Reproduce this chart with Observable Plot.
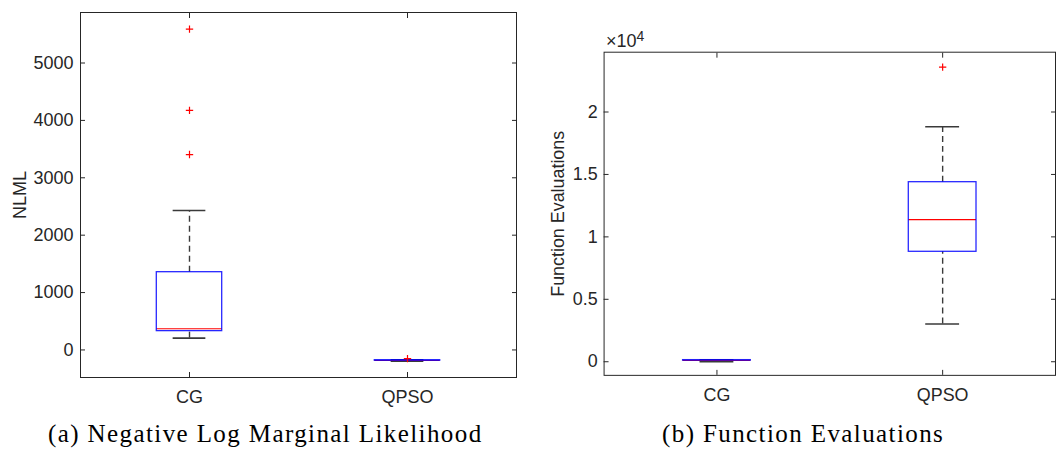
<!DOCTYPE html>
<html><head><meta charset="utf-8">
<script src="https://cdn.jsdelivr.net/npm/d3@7"></script>
<script src="https://cdn.jsdelivr.net/npm/@observablehq/plot@0.6"></script>
<style>
html,body{margin:0;padding:0;background:#fff}
body{width:1057px;height:450px;overflow:hidden;position:relative;font-family:"Liberation Sans",Arial,sans-serif}
#a{position:absolute;left:0;top:0}
#b{position:absolute;left:530px;top:0}
.cap{position:absolute;top:421px;font-family:"Liberation Serif",serif;font-size:25px;letter-spacing:1.4px;color:#000;white-space:nowrap;line-height:1}
#mult{position:absolute;left:606px;top:31.5px;font-size:18px;line-height:1;color:#262626;white-space:nowrap}
</style></head><body>
<div id="a"></div><div id="b"></div>
<div class="cap" style="left:48px">(a) Negative Log Marginal Likelihood</div>
<div class="cap" style="left:662px">(b) Function Evaluations</div>
<div id="mult">×10<span style="font-size:14px;position:relative;top:-6px">4</span></div>
<script>
const methods = ["CG", "QPSO"];

// (a) Negative Log Marginal Likelihood
const nlmlLowerWhisker = [206, -195];
const nlmlQ1 = [328, -188];
const nlmlMedian = [369, -183];
const nlmlQ3 = [1355, -178];
const nlmlUpperWhisker = [2430, -170];
const nlmlOutlierMethod = ["CG", "CG", "CG", "QPSO"];
const nlmlOutlierValue = [5590, 4175, 3405, -150];
const nlmlTicks = [0, 1000, 2000, 3000, 4000, 5000];

// (b) Function Evaluations
const feLowerWhisker = [10, 3025];
const feQ1 = [90, 8806];
const feMedian = [110, 11385];
const feQ3 = [130, 14380];
const feUpperWhisker = [150, 18815];
const feOutlierMethod = ["QPSO"];
const feOutlierValue = [23590];
const feTicks = [0, 5000, 10000, 15000, 20000];

function boxChart({width, height, marginLeft, marginRight, marginTop, marginBottom, yDomain, ticks, tickFormat, label, labelOffset, tickPadY,
                   lo, q1, med, q3, hi, outM, outV}) {
  const rows = methods.map((m, i) => ({m, lo: lo[i], q1: q1[i], med: med[i], q3: q3[i], hi: hi[i]}));
  const outs = outM.map((m, i) => ({m, v: outV[i]}));
  const band = (width - marginLeft - marginRight) / methods.length;
  const boxInset = band * 0.35;
  const capInset = band * 0.425;
  const ink = "#262626";
  const whisk = "#3a3a3a";
  return Plot.plot({
    width, height, marginLeft, marginRight, marginTop, marginBottom,
    x: {type: "band", domain: methods, padding: 0},
    y: {domain: yDomain},
    style: {fontFamily: "'Liberation Sans', Arial, sans-serif", fontSize: "18px", color: ink, background: "white"},
    marks: [
      Plot.ruleX(rows, {x: "m", y1: "q3", y2: "hi", stroke: whisk, strokeWidth: 1.4, strokeDasharray: "6,4"}),
      Plot.ruleX(rows, {x: "m", y1: "lo", y2: "q1", stroke: whisk, strokeWidth: 1.4, strokeDasharray: "6,4"}),
      Plot.tickY(rows, {x: "m", y: "hi", stroke: whisk, strokeWidth: 1.6, insetLeft: capInset, insetRight: capInset}),
      Plot.tickY(rows, {x: "m", y: "lo", stroke: whisk, strokeWidth: 1.6, insetLeft: capInset, insetRight: capInset}),
      Plot.tickY(rows, {x: "m", y: "med", stroke: "#ff0000", strokeWidth: 1.1, insetLeft: boxInset, insetRight: boxInset}),
      Plot.barY(rows, {x: "m", y1: "q1", y2: "q3", fill: "none", stroke: "#0000ff", strokeWidth: 1.3, strokeOpacity: 0.85, insetLeft: boxInset, insetRight: boxInset}),
      Plot.dot(outs, {x: "m", y: "v", symbol: "plus", r: 2.5, stroke: "#ff0000", strokeWidth: 1.2}),
      Plot.frame({stroke: ink}),
      Plot.axisY({ticks, tickFormat, tickSize: -5, tickPadding: tickPadY, label, labelAnchor: "center", labelOffset, labelArrow: "none"}),
      Plot.axisY({anchor: "right", ticks, tickSize: -5, tickFormat: () => "", label: null}),
      Plot.axisX({anchor: "bottom", tickSize: -5, tickPadding: 18, label: null}),
      Plot.axisX({anchor: "top", tickSize: -5, tickFormat: () => "", label: null})
    ]
  });
}

document.getElementById("a").append(boxChart({
  width: 530, height: 415, marginLeft: 80, marginRight: 14, marginTop: 12, marginBottom: 38,
  yDomain: [-480, 5880], ticks: nlmlTicks, tickFormat: d3.format("d"), label: "NLML", labelOffset: 67, tickPadY: 12,
  lo: nlmlLowerWhisker, q1: nlmlQ1, med: nlmlMedian, q3: nlmlQ3, hi: nlmlUpperWhisker,
  outM: nlmlOutlierMethod, outV: nlmlOutlierValue
}));

document.getElementById("b").append(boxChart({
  width: 530, height: 415, marginLeft: 74, marginRight: 2, marginTop: 52, marginBottom: 38,
  yDomain: [-1090, 24790], ticks: feTicks, tickFormat: d => d / 1e4, label: "Function Evaluations", labelOffset: 53, tickPadY: 11.5,
  lo: feLowerWhisker, q1: feQ1, med: feMedian, q3: feQ3, hi: feUpperWhisker,
  outM: feOutlierMethod, outV: feOutlierValue
}));
</script>
</body></html>
